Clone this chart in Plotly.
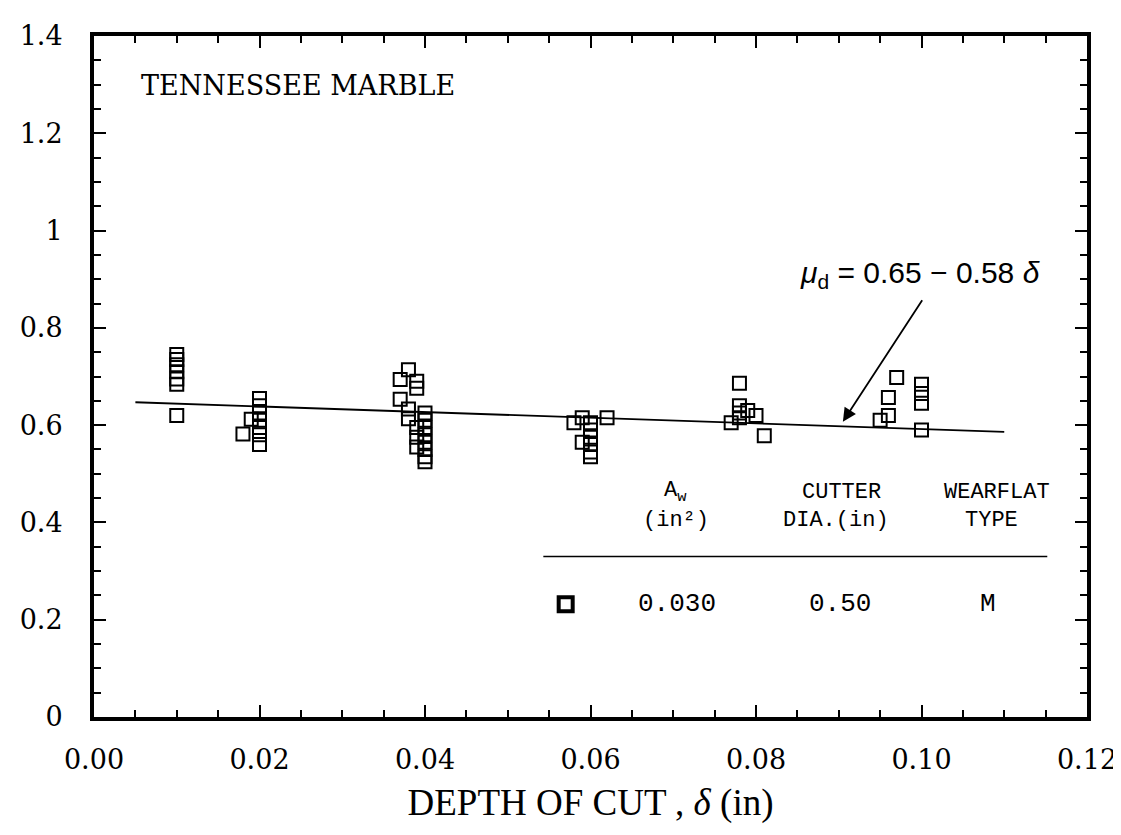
import plotly.graph_objects as go

# ---- data ----
depth = [0.010, 0.010, 0.010, 0.010, 0.010, 0.010, 0.010,
         0.018, 0.019, 0.020, 0.020, 0.020, 0.020, 0.020, 0.020, 0.020,
         0.037, 0.037, 0.038, 0.038, 0.038, 0.039, 0.039, 0.039, 0.039, 0.039,
         0.040, 0.040, 0.040, 0.040, 0.040, 0.040, 0.040, 0.040,
         0.058, 0.059, 0.059, 0.060, 0.060, 0.060, 0.060, 0.060, 0.060, 0.062,
         0.077, 0.078, 0.078, 0.078, 0.078, 0.079, 0.080, 0.081,
         0.095, 0.096, 0.096, 0.097, 0.100, 0.100, 0.100, 0.100]
mu_d = [0.745, 0.735, 0.724, 0.710, 0.695, 0.684, 0.620,
        0.582, 0.612, 0.655, 0.640, 0.625, 0.610, 0.595, 0.580, 0.560,
        0.694, 0.653, 0.714, 0.633, 0.613, 0.690, 0.676, 0.595, 0.575, 0.555,
        0.625, 0.610, 0.595, 0.580, 0.565, 0.550, 0.535, 0.525,
        0.605, 0.615, 0.565, 0.605, 0.590, 0.575, 0.560, 0.545, 0.535, 0.615,
        0.605, 0.686, 0.640, 0.625, 0.615, 0.630, 0.620, 0.578,
        0.610, 0.620, 0.657, 0.698, 0.684, 0.665, 0.645, 0.590]

fit_intercept = 0.65
fit_slope = -0.58
fit_x = [0.005, 0.110]
fit_y = [fit_intercept + fit_slope * v for v in fit_x]

legend_headers_1 = ["A<sub>w</sub>", "CUTTER", "WEARFLAT"]
legend_headers_2 = ["(in²)", "DIA.(in)", "TYPE"]
legend_values = ["0.030", "0.50", "M"]

x_ticks = [0.00, 0.02, 0.04, 0.06, 0.08, 0.10, 0.12]
x_ticktext = ["0.00", "0.02", "0.04", "0.06", "0.08", "0.10", "0.12"]
y_ticks = [0, 0.2, 0.4, 0.6, 0.8, 1.0, 1.2, 1.4]
y_ticktext = ["0", "0.2", "0.4", "0.6", "0.8", "1", "1.2", "1.4"]

SERIF_W = "DejaVu Serif"
SERIF_N = "Liberation Serif"
MONO = "Liberation Mono"
SANS = "Liberation Sans"

fig = go.Figure()

fig.add_trace(go.Scatter(x=fit_x, y=fit_y, mode="lines",
                         line=dict(color="black", width=1.8),
                         showlegend=False, hoverinfo="skip"))
fig.add_trace(go.Scatter(x=depth, y=mu_d, mode="markers",
                         marker=dict(symbol="square-open", size=13,
                                     color="black", line=dict(width=2)),
                         showlegend=False))

# legend table: symbol
fig.add_trace(go.Scatter(x=[0.0570], y=[0.232], mode="markers",
                         marker=dict(symbol="square-open", size=14,
                                     color="black", line=dict(width=4)),
                         showlegend=False, hoverinfo="skip"))

fig.add_shape(type="line", x0=0.0543, x1=0.1152, y0=0.33, y1=0.33,
              line=dict(color="black", width=1.6))

ann = []
ann.append(dict(x=0.0054, y=1.298, xanchor="left", yanchor="middle",
                text="TENNESSEE MARBLE", showarrow=False,
                font=dict(family=SERIF_W, size=27, color="black")))
hdr_font = dict(family=MONO, size=22, color="black")
hdr1_x = [0.0703, 0.0903, 0.1091]
hdr2_x = [0.0703, 0.0897, 0.1084]
for cx, t in zip(hdr1_x, legend_headers_1):
    ann.append(dict(x=cx, y=0.462, text=t, showarrow=False, font=hdr_font))
for cx, t in zip(hdr2_x, legend_headers_2):
    ann.append(dict(x=cx, y=0.405, text=t, showarrow=False, font=hdr_font))
val_x = [0.0705, 0.0902, 0.1080]
for vx, vt in zip(val_x, legend_values):
    ann.append(dict(x=vx, y=0.232, text=vt, showarrow=False,
                    font=dict(family=MONO, size=26, color="black")))
ann.append(dict(x=0.0905, y=0.607, ax=0.1002, ay=0.860,
                xref="x", yref="y", axref="x", ayref="y",
                text="", showarrow=True, arrowhead=2, arrowsize=1.5,
                arrowwidth=1.8, arrowcolor="black"))
ann.append(dict(x=0.0998, y=0.910, text="<i>μ</i><sub>d</sub> = 0.65 − 0.58 <i>δ</i>",
                showarrow=False, font=dict(family=SANS, size=30, color="black")))

fig.update_layout(
    width=1121, height=835,
    margin=dict(l=83, r=36, t=21, b=126),
    paper_bgcolor="white", plot_bgcolor="white",
    annotations=ann,
    showlegend=False,
)
fig.update_xaxes(range=[0, 0.12], tickvals=x_ticks, ticktext=x_ticktext,
                 ticks="inside", ticklen=12, tickwidth=1.5, tickcolor="black",
                 minor=dict(dtick=0.005, ticks="inside", ticklen=7, tickcolor="black"),
                 showline=True, linewidth=4, linecolor="black", mirror="ticks",
                 showgrid=False, zeroline=False, ticklabelstandoff=16,
                 tickfont=dict(family=SERIF_W, size=27, color="black"),
                 title=dict(text="DEPTH OF CUT , <i>δ</i> (in)", standoff=16,
                            font=dict(family=SERIF_N, size=37, color="black")))
fig.update_yaxes(range=[0, 1.4], tickvals=y_ticks, ticktext=y_ticktext,
                 ticks="inside", ticklen=12, tickwidth=1.5, tickcolor="black",
                 minor=dict(dtick=0.05, ticks="inside", ticklen=7, tickcolor="black"),
                 showline=True, linewidth=4, linecolor="black", mirror="ticks",
                 showgrid=False, zeroline=False, ticklabelstandoff=22,
                 tickfont=dict(family=SERIF_W, size=27, color="black"))

fig.write_html("out.html")
